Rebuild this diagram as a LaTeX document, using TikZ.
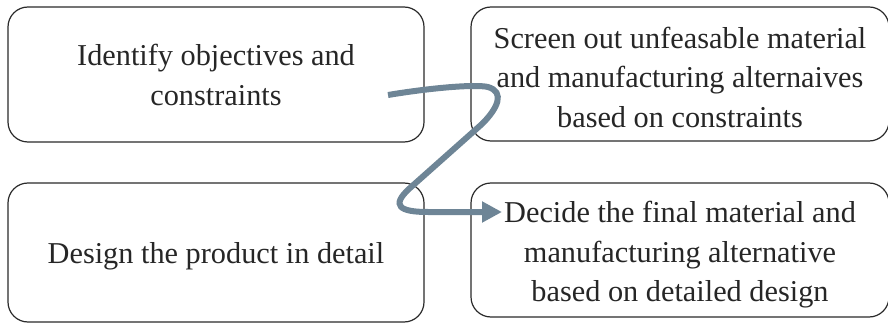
\documentclass[tikz,border=0pt]{standalone}
\usepackage{fontspec}
\setmainfont{Liberation Serif}
\usetikzlibrary{arrows.meta}
\definecolor{boxline}{HTML}{2A2A2A}
\definecolor{flow}{HTML}{6E8596}
\newcommand{\boxtext}[2]{\raisebox{-#1}[\height][\depth]{\begin{tabular}{@{}c@{}}#2\end{tabular}}}
\tikzset{
  stagebox/.style={draw=boxline, line width=1.2pt, rounded corners=20pt, align=center,
    font=\fontsize{30.3}{39.5}\selectfont, text=black!85, inner sep=0pt},
  flowline/.style={draw=flow, line width=6pt, -{Triangle[length=20pt,width=20pt]}}
}
\begin{document}
\begin{tikzpicture}[x=1pt,y=-1pt]
\useasboundingbox (0,0) rectangle (888,323);
\begin{scope}
\clip (0,0) rectangle (888,323);
\node[stagebox, minimum width=416pt, minimum height=135pt] (obj) at (216,74.5)
  {\boxtext{3pt}{Identify objectives and\\constraints}};
\node[stagebox, minimum width=418pt, minimum height=134pt] (scr) at (680,74)
  {\boxtext{6pt}{Screen out unfeasable material\\and manufacturing alternaives\\based on constraints}};
\node[stagebox, minimum width=416pt, minimum height=139pt] (des) at (216,252.5)
  {\boxtext{3.5pt}{Design the product in detail}};
\node[stagebox, minimum width=418pt, minimum height=134pt] (dec) at (680,250)
  {\boxtext{4.5pt}{Decide the final material and\\manufacturing alternative\\based on detailed design}};
\end{scope}
\coordinate (s) at (388,95);
\coordinate (t) at (502,212);
\draw[flowline] (s) .. controls (430,88) and (475,84) .. (488,87)
  .. controls (505,92) and (498,108) .. (482,124)
  -- (410,188)
  .. controls (390,206) and (400,212) .. (428,212)
  -- (t);
\end{tikzpicture}
\end{document}
